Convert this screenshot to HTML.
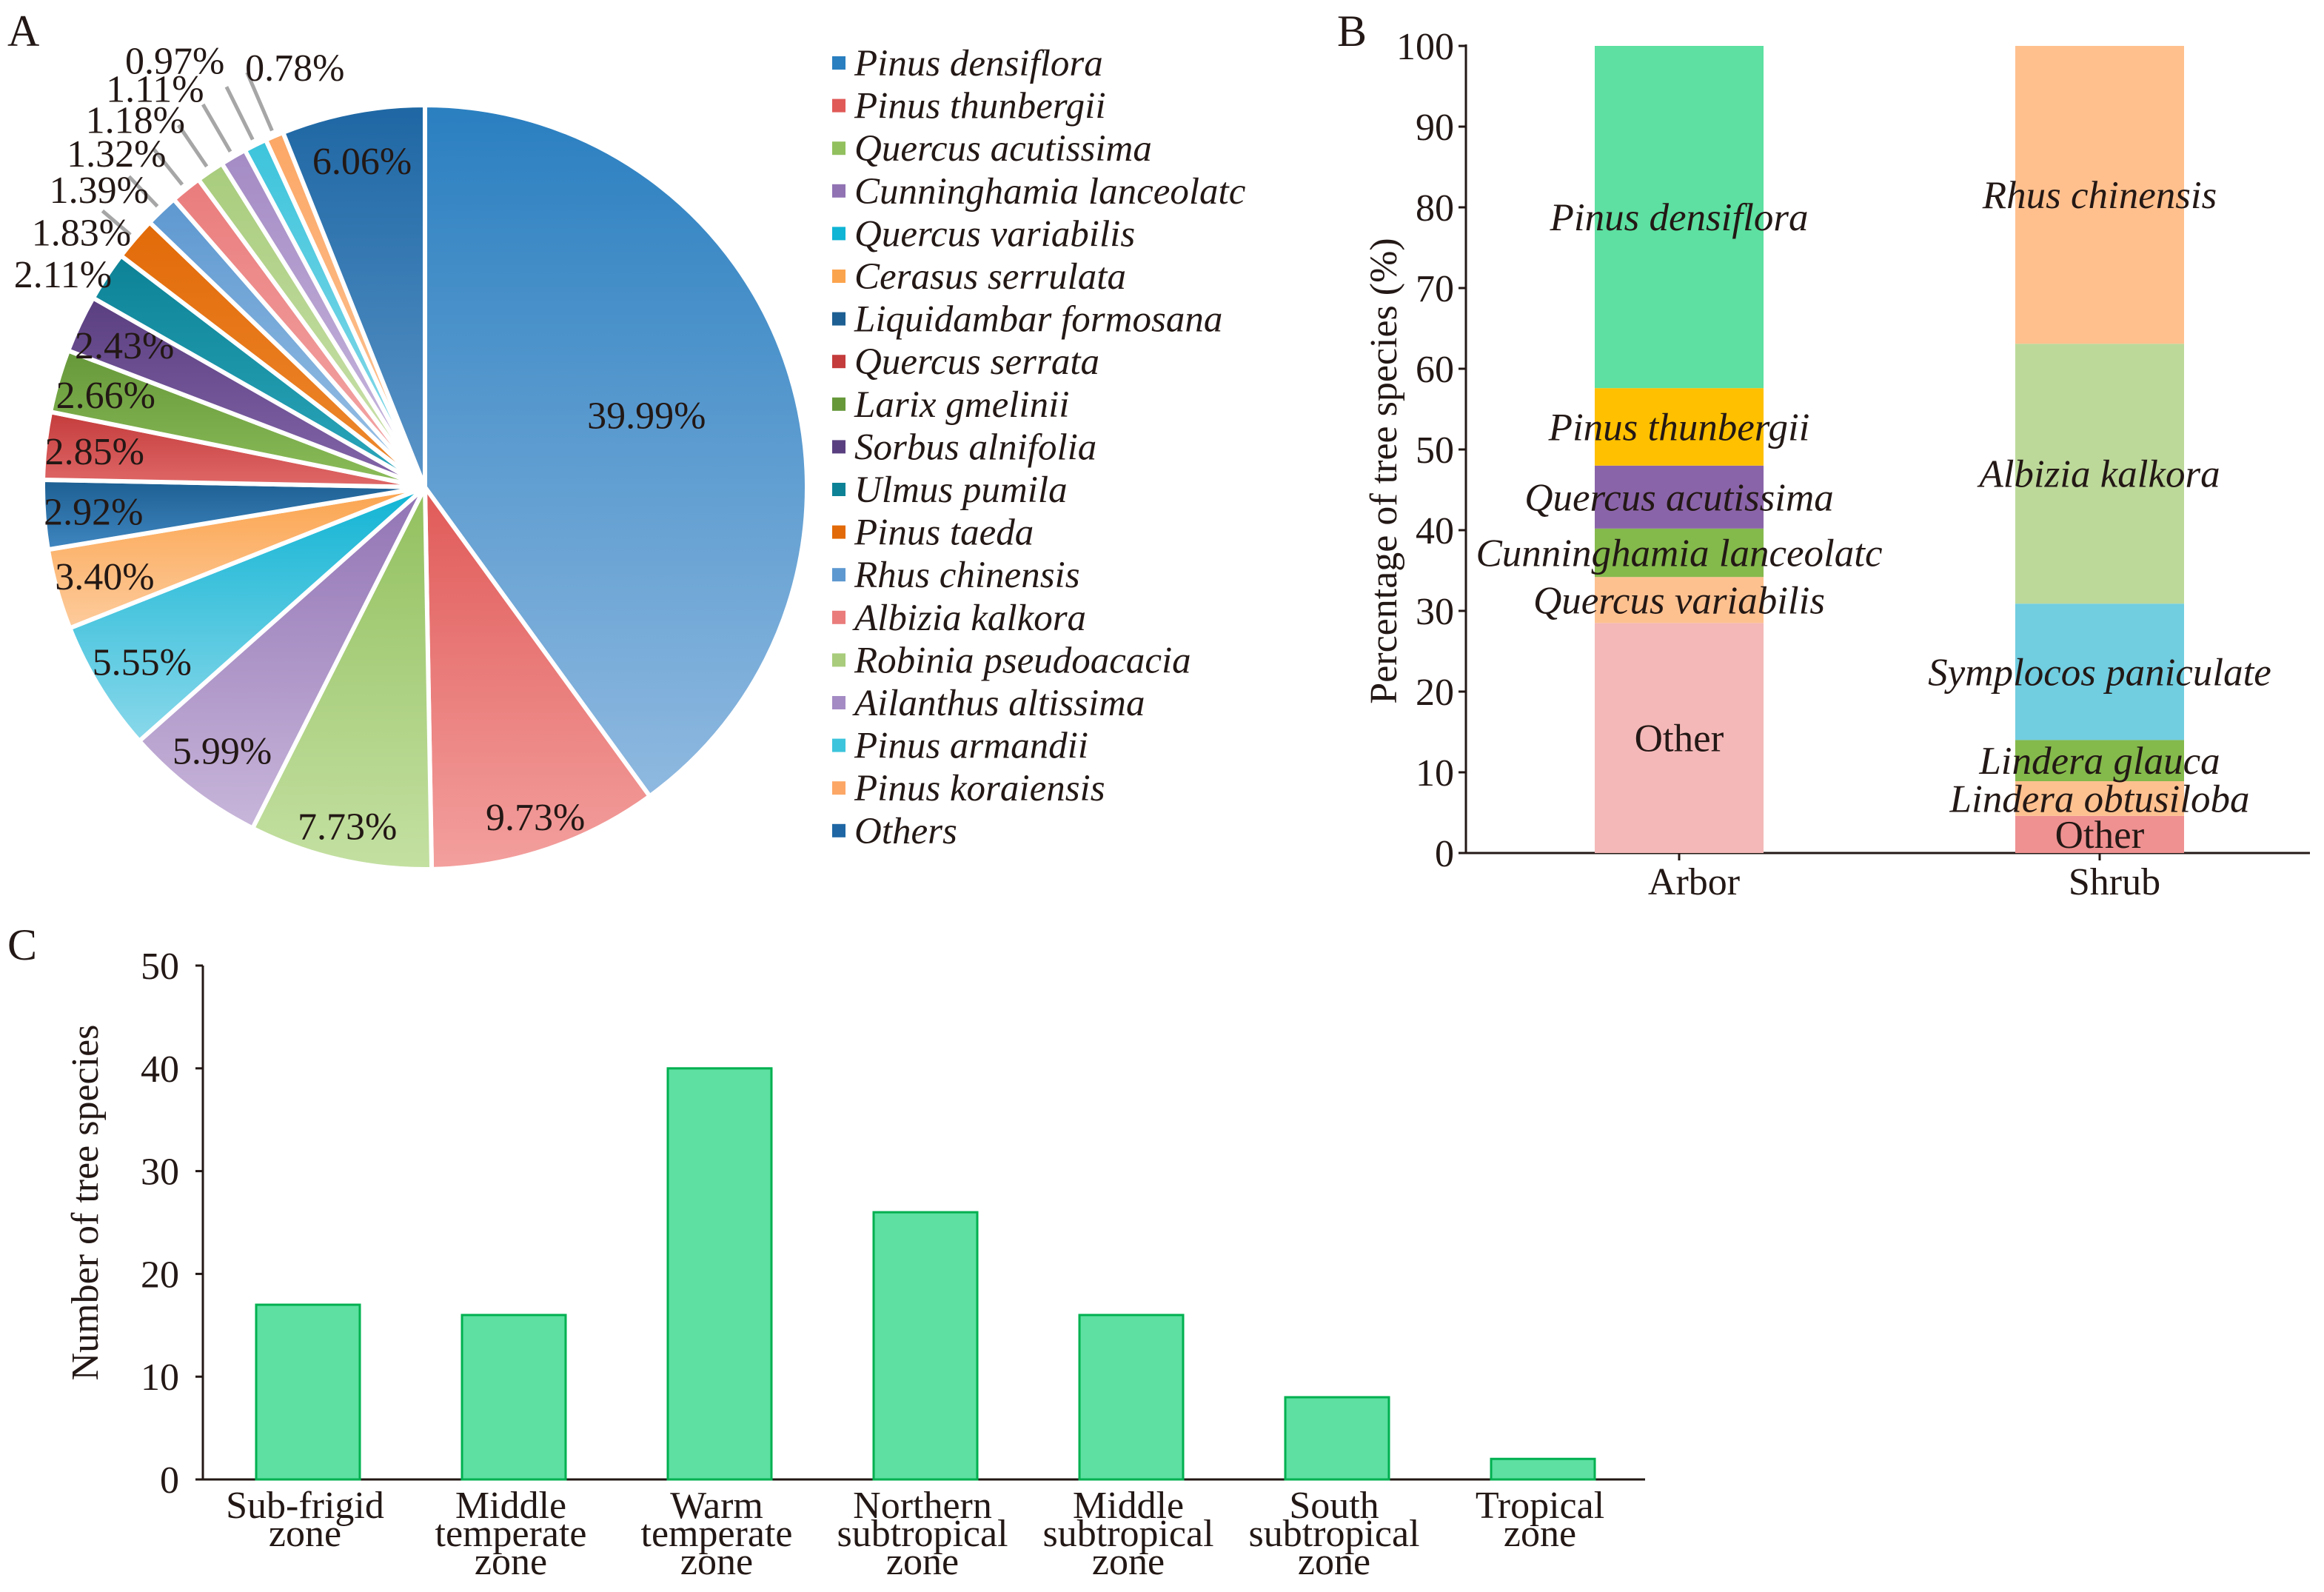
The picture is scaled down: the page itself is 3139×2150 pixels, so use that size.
<!DOCTYPE html>
<html><head><meta charset="utf-8"><style>
html,body{margin:0;padding:0;background:#fff;}
svg{display:block;font-family:"Liberation Serif",serif;}
</style></head><body>
<svg id="fig" width="3139" height="2150" viewBox="0 0 1569.5 1075" xmlns="http://www.w3.org/2000/svg">
<defs id="defs"></defs>
<text x="5" y="31" font-size="30" fill="#231815">A</text>
<text x="903" y="31" font-size="30" fill="#231815">B</text>
<text x="5" y="648" font-size="30" fill="#231815">C</text>
<g id="pie"></g>
<g id="legend"></g>
<g id="chartB"></g>
<g id="chartC"></g>
</svg>
<script>
const NS="http://www.w3.org/2000/svg";
const pieNames=["Pinus densiflora","Pinus thunbergii","Quercus acutissima","Cunninghamia lanceolatc","Quercus variabilis","Cerasus serrulata","Liquidambar formosana","Quercus serrata","Larix gmelinii","Sorbus alnifolia","Ulmus pumila","Pinus taeda","Rhus chinensis","Albizia kalkora","Robinia pseudoacacia","Ailanthus altissima","Pinus armandii","Pinus koraiensis","Others"];
const pieValues=[39.99,9.73,7.73,5.99,5.55,3.40,2.92,2.85,2.66,2.43,2.11,1.83,1.39,1.32,1.18,1.11,0.97,0.78,6.06];
const pieColors=[["#2a7fc0","#8fb9e0"],["#e05a58","#f3a09e"],["#92c05e","#c4e0a2"],["#9173b4","#c8b6da"],["#10b4d4","#8ad8ea"],["#fba44e","#fdcb9c"],["#1d5f92","#3f86c0"],["#c43c3c","#e06868"],["#66983a","#8cbd5a"],["#5a3f80","#8466aa"],["#0d8296","#2ca8bc"],["#e26a08","#ee8a30"],["#5d98d0","#9cc2e6"],["#ea7c7c","#f4aaaa"],["#a8cc7c","#cde3b0"],["#a48bc4","#cbbbe0"],["#3cc4dc","#90dcea"],["#fca766","#fdc79a"],["#1e67a4","#5b95c8"]];
const arborNames=["Other","Quercus variabilis","Cunninghamia lanceolatc","Quercus acutissima","Pinus thunbergii","Pinus densiflora"];
const arborValues=[28.5,5.7,6.0,7.8,9.6,42.4];
const arborColors=["#f4b8b8","#fdc190","#84b94c","#8a64a8","#ffc000","#5de0a1"];
const shrubNames=["Other","Lindera obtusiloba","Lindera glauca","Symplocos paniculate","Albizia kalkora","Rhus chinensis"];
const shrubValues=[4.6,4.3,5.1,16.9,32.2,36.9];
const shrubColors=["#ef9191","#fdc190","#84b94c","#71cde0","#bcd99a","#ffc08e"];
const bTicks=[0,10,20,30,40,50,60,70,80,90,100];
const zoneLabels=[["Sub-frigid","zone"],["Middle","temperate","zone"],["Warm","temperate","zone"],["Northern","subtropical","zone"],["Middle","subtropical","zone"],["South","subtropical","zone"],["Tropical","zone"]];
const zoneValues=[17,16,40,26,16,8,2];
const cTicks=[0,10,20,30,40,50];

function mk(tag,attrs,parent,text){const e=document.createElementNS(NS,tag);for(const k in attrs)e.setAttribute(k,attrs[k]);if(text!==undefined)e.textContent=text;parent.appendChild(e);return e;}
const defs=document.getElementById('defs');

// ---- Pie ----
const pie=document.getElementById('pie');
const cx=287,cy=329,R=258;
const total=pieValues.reduce((a,b)=>a+b,0);
let lastSmall=-1;pieValues.forEach((v,i)=>{if(v<2)lastSmall=i;});
let cum=0,small=0;
function pt(a,r){return [cx+r*Math.sin(a),cy-r*Math.cos(a)];}
const deg=Math.PI/180;
pieValues.forEach((v,i)=>{
  const g=mk('linearGradient',{id:'g'+i,x1:0,y1:0,x2:0,y2:1},defs);
  mk('stop',{offset:0,'stop-color':pieColors[i][0]},g);mk('stop',{offset:1,'stop-color':pieColors[i][1]},g);
  const a0=cum/total*2*Math.PI;cum+=v;const a1=cum/total*2*Math.PI;
  const p0=pt(a0,R),p1=pt(a1,R);
  const s=mk('path',{d:`M${cx},${cy}L${p0[0]},${p0[1]}A${R},${R} 0 ${a1-a0>Math.PI?1:0} 1 ${p1[0]},${p1[1]}Z`,fill:`url(#g${i})`,stroke:'#fff','stroke-width':3},pie);
  
  
  const am=(a0+a1)/2;
  let lp;
  if(v<2){
    let rr,la;
    if(i===lastSmall){rr=R*1.15;la=am+6*deg;}
    else{rr=R*(1.12+0.035*small);la=am-4*deg;}
    small++;
    const q0=pt(am,R+4),q1=pt(am,R*1.1+small*3);
    const ln=mk('line',{x1:q0[0],y1:q0[1],x2:q1[0],y2:q1[1],stroke:'#a6a6a6','stroke-width':2.5},pie);
    
    
    lp=pt(la,rr);
  } else {
    let rf=0.87;
    if(i===0)rf=0.61;else if(v>7)rf=0.91;else if(v<2.2)rf=1.0;
    lp=pt(am,R*rf);
    if(v<2.2){lp=pt(am-3*deg,R*1.1);}
  }
  const t=mk('text',{x:lp[0],y:lp[1]+9,'text-anchor':'middle','font-size':26,fill:'#231815'},pie,v.toFixed(2)+'%');
  
  
});
// legend
const lg=document.getElementById('legend');
pieNames.forEach((n,i)=>{
  const y=43+i*28.8;
  const r=mk('rect',{x:562,y:y-5,width:9,height:9,fill:pieColors[i][0]},lg);
  
  
  const t=mk('text',{x:577,y:y+8,'font-size':25.5,'font-style':'italic',fill:'#231815'},lg,n);
  
  
});

// ---- Chart B ----
const B=document.getElementById('chartB');
const bx0=990,by0=576,bTop=31;
const yB=v=>by0-(by0-bTop)*v/100;
mk('line',{x1:bx0,y1:bTop-1,x2:bx0,y2:by0,stroke:'#231815','stroke-width':1.5},B);
mk('line',{x1:bx0,y1:by0,x2:1560,y2:by0,stroke:'#231815','stroke-width':1.5},B);
bTicks.forEach(v=>{
  mk('line',{x1:bx0-5,y1:yB(v),x2:bx0,y2:yB(v),stroke:'#231815','stroke-width':1.5},B);
  const t=mk('text',{x:bx0-8,y:yB(v)+9,'text-anchor':'end','font-size':26,fill:'#231815'},B,v);
  
  
});
const yt=mk('text',{x:0,y:0,transform:`translate(943,318) rotate(-90)`,'text-anchor':'middle','font-size':26,fill:'#231815'},B,'Percentage of tree species (%)');


function stack(names,vals,cols,xc,cat){
  let c=0;
  vals.forEach((v,i)=>{
    const r=mk('rect',{x:xc-57,y:yB(c+v),width:114,height:yB(c)-yB(c+v),fill:cols[i]},B);
    
    
    const t=mk('text',{x:xc,y:yB(c+v/2)+9,'text-anchor':'middle','font-size':26.5,'font-style':names[i]==='Other'?'normal':'italic',fill:'#231815'},B,names[i]);
    
    
    c+=v;
  });
  mk('line',{x1:xc,y1:by0,x2:xc,y2:by0+5,stroke:'#231815','stroke-width':1.5},B);
  const t=mk('text',{x:xc+10,y:by0+28,'text-anchor':'middle','font-size':26,fill:'#231815'},B,cat);
  
  
}
stack(arborNames,arborValues,arborColors,1134,'Arbor');
stack(shrubNames,shrubValues,shrubColors,1418,'Shrub');

// ---- Chart C ----
const C=document.getElementById('chartC');
const cx0=137,cy0=999,cTop=652,step=139,first=208;
const yC=v=>cy0-(cy0-cTop)*v/50;
mk('line',{x1:cx0,y1:cTop,x2:cx0,y2:cy0,stroke:'#231815','stroke-width':1.5},C);
mk('line',{x1:cx0,y1:cy0,x2:1111,y2:cy0,stroke:'#231815','stroke-width':1.5},C);
cTicks.forEach(v=>{
  mk('line',{x1:cx0-5,y1:yC(v),x2:cx0,y2:yC(v),stroke:'#231815','stroke-width':1.5},C);
  const t=mk('text',{x:cx0-16,y:yC(v)+9,'text-anchor':'end','font-size':26,fill:'#231815'},C,v);
  
  
});
const ct=mk('text',{x:0,y:0,transform:`translate(66,812) rotate(-90)`,'text-anchor':'middle','font-size':26,fill:'#231815'},C,'Number of tree species');


zoneValues.forEach((v,i)=>{
  const x=first+i*step;
  const r=mk('rect',{x:x-35,y:yC(v),width:70,height:cy0-yC(v),fill:'#5de0a1',stroke:'#00b050','stroke-width':1.5},C);
  
  
  zoneLabels[i].forEach((s,j)=>{
    const t=mk('text',{x:x-2,y:1025+j*19,'text-anchor':'middle','font-size':26,fill:'#231815'},C,s);
    
    
  });
});
</script>
</body></html>
